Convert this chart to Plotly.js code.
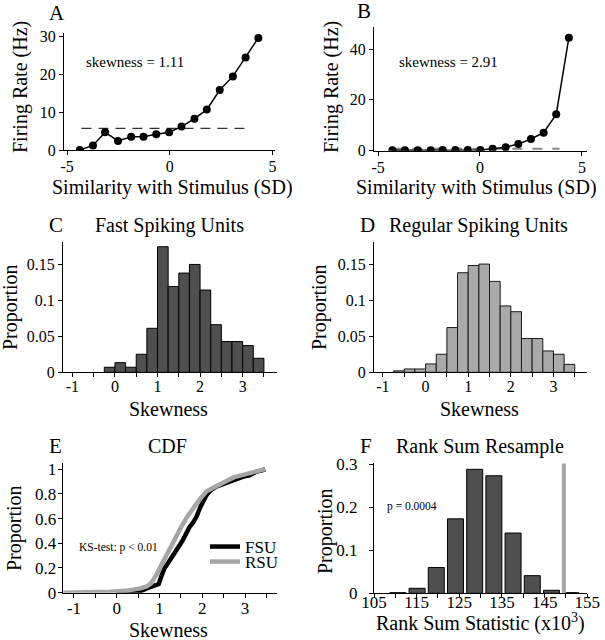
<!DOCTYPE html>
<html>
<head>
<meta charset="utf-8">
<script src="https://cdn.plot.ly/plotly-3.0.1.min.js"></script>
<style>html,body{margin:0;padding:0;background:#fff}#chart{width:605px;height:640px}</style>
</head>
<body>
<div id="chart"></div>
<script>
// ---- Panel A: example tuning curve (skewness 1.11)
const A_similarity = [-4.38,-3.74,-3.15,-2.52,-1.88,-1.28,-0.66,-0.03,0.57,1.20,1.80,2.43,3.07,3.69,4.31];
const A_rate = [0,1.2,4.7,2.4,3.5,3.5,4.2,4.7,6.2,8.3,10.7,15.9,19.5,24.5,29.7];
const A_threshX = [-4.3, 3.9];
const A_threshY = [5.75, 5.75];

// ---- Panel B: example tuning curve (skewness 2.91)
const B_similarity = [-4.30,-3.68,-3.05,-2.42,-1.83,-1.21,-0.60,0.02,0.62,1.26,1.88,2.50,3.12,3.74,4.36];
const B_rate = [0.2,0.2,0.2,0.2,0.3,0.3,0.3,0.3,0.8,1.4,2.6,4.6,7.1,14.3,44.5];
const B_threshX = [-4.3, 3.9];
const B_threshY = [0.8, 0.8];

// ---- Panel C: Fast spiking units skewness histogram (bin width 0.25)
const C_binCenters = [-0.125,0.125,0.375,0.625,0.875,1.125,1.375,1.625,1.875,2.125,2.375,2.625,2.875,3.125,3.375];
const C_proportion = [0.007,0.0134,0.007,0.025,0.061,0.174,0.119,0.1375,0.1495,0.114,0.066,0.0426,0.0426,0.037,0.0194];

// ---- Panel D: Regular spiking units skewness histogram
const D_binCenters = [-0.625,-0.375,-0.125,0.125,0.375,0.625,0.875,1.125,1.375,1.625,1.875,2.125,2.375,2.625,2.875,3.125,3.375];
const D_proportion = [0.002,0.0046,0.0046,0.0116,0.025,0.062,0.138,0.148,0.150,0.126,0.092,0.084,0.0468,0.0468,0.0296,0.025,0.011];

// ---- Panel E: CDFs
const E_fsuSkew = [0.0,0.3,0.54,0.7,0.8,0.93,0.98,1.05,1.12,1.2,1.25,1.32,1.4,1.48,1.55,1.64,1.7,1.79,1.87,1.95,2.02,2.1,2.2,2.34,2.5,2.65,2.8,2.96,3.1,3.27,3.4,3.47];
const E_fsuCdf  = [0,0.005,0.01,0.035,0.045,0.062,0.07,0.14,0.2,0.24,0.27,0.3,0.35,0.39,0.43,0.5,0.53,0.57,0.62,0.69,0.74,0.79,0.83,0.86,0.88,0.9,0.92,0.94,0.95,0.98,0.99,1.0];
const E_rsuSkew = [-1.25,-0.6,-0.15,0.2,0.4,0.55,0.7,0.8,0.92,1.01,1.12,1.25,1.4,1.52,1.64,1.79,1.95,2.1,2.25,2.42,2.6,2.75,2.9,3.05,3.2,3.35,3.47];
const E_rsuCdf  = [0,0.002,0.008,0.015,0.025,0.035,0.05,0.075,0.14,0.2,0.28,0.37,0.47,0.54,0.61,0.69,0.76,0.82,0.85,0.88,0.91,0.935,0.95,0.965,0.975,0.99,1.0];

// ---- Panel F: rank sum resample distribution (x10^3)
const F_binCenters = [110.6,115.1,119.6,124.1,128.6,133.1,137.6,142.1,146.6,151.1];
const F_proportion = [0.0015,0.0116,0.060,0.173,0.288,0.273,0.14,0.041,0.007,0.0015];
const F_observed = 149.5;
const F_observedSpan = [0, 0.302];

// ---- tick labels
const A_xTicks = [-5,0,5], A_xLabels = ['-5','0','5'];
const A_yTicks = [0,10,20,30], A_yLabels = ['0','10','20','30'];
const B_yTicks = [0,20,40], B_yLabels = ['0','20','40'];
const skewTicks = [-1,0,1,2,3], skewLabels = ['-1','0','1','2','3'];
const propTicks = [0,0.05,0.1,0.15], propLabels = ['0','0.05','0.1','0.15'];
const cdfTicks = [0,0.2,0.4,0.6,0.8,1], cdfLabels = ['0','0.2','0.4','0.6','0.8','1'];
const F_xTicks = [105,115,125,135,145,155], F_xLabels = ['105','115','125','135','145','155'];
const F_yTicks = [0,0.1,0.2,0.3], F_yLabels = ['0','0.1','0.2','0.3'];

const FONT = '"Liberation Serif", serif';
const W = 605, H = 640;
const px = v => v / W;
const py = v => 1 - v / H;

function ax(extra, size) {
  return Object.assign({
    showline: true, linecolor: 'black', linewidth: 1,
    ticks: 'outside', ticklen: 4, tickcolor: 'black', tickwidth: 1,
    showgrid: false, zeroline: false, fixedrange: true,
    tickfont: {family: FONT, size: size || 16, color: 'black'},
    tickmode: 'array'
  }, extra);
}
const minorSkew = {tickmode: 'linear', tick0: -1, dtick: 0.5, ticks: 'outside', ticklen: 4, tickcolor: 'black', showgrid: false};

const darkBar = {color: '#4f4f4f', line: {color: 'black', width: 1}};
const lightBar = {color: '#a9a9a9', line: {color: '#1a1a1a', width: 1}};

const traces = [
  {x: A_threshX, y: A_threshY, xaxis: 'x', yaxis: 'y', mode: 'lines', line: {color: '#333', width: 1.2, dash: '10px,7px'}, showlegend: false},
  {x: A_similarity, y: A_rate, xaxis: 'x', yaxis: 'y', mode: 'lines+markers', line: {color: 'black', width: 1.5}, marker: {color: 'black', size: 8}, showlegend: false},
  {x: B_threshX, y: B_threshY, xaxis: 'x2', yaxis: 'y2', mode: 'lines', line: {color: '#888', width: 2, dash: '10px,10px'}, showlegend: false},
  {x: B_similarity, y: B_rate, xaxis: 'x2', yaxis: 'y2', mode: 'lines+markers', line: {color: 'black', width: 1.5}, marker: {color: 'black', size: 8}, showlegend: false},
  {type: 'bar', x: C_binCenters, y: C_proportion, width: 0.25, xaxis: 'x3', yaxis: 'y3', marker: darkBar, showlegend: false},
  {type: 'bar', x: D_binCenters, y: D_proportion, width: 0.25, xaxis: 'x4', yaxis: 'y4', marker: lightBar, showlegend: false},
  {x: E_fsuSkew, y: E_fsuCdf, xaxis: 'x5', yaxis: 'y5', mode: 'lines', name: 'FSU', line: {color: 'black', width: 4.5}, showlegend: true, legend: 'legend'},
  {x: E_rsuSkew, y: E_rsuCdf, xaxis: 'x5', yaxis: 'y5', mode: 'lines', name: 'RSU', line: {color: '#a6a6a6', width: 4.5}, showlegend: true, legend: 'legend2'},
  {type: 'bar', x: F_binCenters, y: F_proportion, width: 3.75, xaxis: 'x6', yaxis: 'y6', marker: darkBar, showlegend: false},
  {x: [F_observed, F_observed], y: F_observedSpan, xaxis: 'x6', yaxis: 'y6', mode: 'lines', line: {color: '#a6a6a6', width: 4}, showlegend: false}
];

function ann(text, x, y, size, extra) {
  return Object.assign({text: text, x: px(x), y: py(y), xref: 'paper', yref: 'paper', showarrow: false,
    xanchor: 'center', yanchor: 'middle', font: {family: FONT, size: size, color: 'black'}}, extra || {});
}

const annotations = [
  ann('A', 57, 13, 21), ann('B', 364, 11, 21), ann('C', 56, 225, 21), ann('D', 367, 225, 21),
  ann('E', 55, 446, 21), ann('F', 366, 446, 21),
  ann('Fast Spiking Units', 169, 225, 20), ann('Regular Spiking Units', 478, 225, 20),
  ann('CDF', 167, 446, 20), ann('Rank Sum Resample', 480, 446, 20),
  ann('Firing Rate (Hz)', 20, 87, 20, {textangle: -90}),
  ann('Firing Rate (Hz)', 331, 87, 20, {textangle: -90}),
  ann('Similarity with Stimulus (SD)', 172, 188, 20),
  ann('Similarity with Stimulus (SD)', 477, 188, 20),
  ann('Proportion', 10, 307, 20, {textangle: -90}),
  ann('Proportion', 319, 307, 20, {textangle: -90}),
  ann('Skewness', 168, 409, 20), ann('Skewness', 479, 409, 20),
  ann('Proportion', 14, 528, 20, {textangle: -90}),
  ann('Proportion', 325, 531, 20, {textangle: -90}),
  ann('Skewness', 168, 630, 20),
  ann('Rank Sum Statistic (x10<sup>3</sup>)', 480, 622, 20),
  ann('skewness = 1.11', 135, 62, 15),
  ann('skewness = 2.91', 448, 62, 15),
  ann('KS-test: p &lt; 0.01', 118, 547, 11.5),
  ann('p = 0.0004', 412, 506, 11.5)
];

const legendBase = {xref: 'paper', yref: 'paper', xanchor: 'left', yanchor: 'middle', bgcolor: 'rgba(0,0,0,0)',
  borderwidth: 0, font: {family: FONT, size: 17, color: 'black'}, itemwidth: 30};

const layout = {
  width: W, height: H, margin: {l: 0, r: 0, t: 0, b: 0},
  paper_bgcolor: 'white', plot_bgcolor: 'rgba(0,0,0,0)',
  bargap: 0,
  font: {family: FONT},
  legend: Object.assign({}, legendBase, {x: px(205), y: py(547)}),
  legend2: Object.assign({}, legendBase, {x: px(205), y: py(562)}),
  xaxis: ax({domain: [px(64), px(275)], range: [-5.15, 5.12], tickvals: A_xTicks, ticktext: A_xLabels, anchor: 'y', ticklabelstandoff: -2}),
  yaxis: ax({domain: [py(150), py(33)], range: [0, 31], tickvals: A_yTicks, ticktext: A_yLabels, anchor: 'x'}),
  xaxis2: ax({domain: [px(374), px(587)], range: [-5.2, 5.25], tickvals: A_xTicks, ticktext: A_xLabels, anchor: 'y2', ticklabelstandoff: -2}),
  yaxis2: ax({domain: [py(150.7), py(26.7)], range: [0, 48.8], tickvals: B_yTicks, ticktext: B_yLabels, anchor: 'x2'}),
  xaxis3: ax({domain: [px(63), px(276.7)], range: [-1.22, 3.8], tickvals: skewTicks, ticktext: skewLabels, anchor: 'y3', minor: minorSkew, ticklabelstandoff: -5}),
  yaxis3: ax({domain: [py(372.3), py(241.7)], range: [0, 0.181], tickvals: propTicks, ticktext: propLabels, anchor: 'x3'}),
  xaxis4: ax({domain: [px(374), px(586.7)], range: [-1.21, 3.78], tickvals: skewTicks, ticktext: skewLabels, anchor: 'y4', minor: minorSkew, ticklabelstandoff: -5}),
  yaxis4: ax({domain: [py(372.3), py(241.7)], range: [0, 0.181], tickvals: propTicks, ticktext: propLabels, anchor: 'x4'}),
  xaxis5: ax({domain: [px(62.7), px(276.7)], range: [-1.264, 3.74], tickvals: skewTicks, ticktext: skewLabels, anchor: 'y5', minor: minorSkew, ticklabelstandoff: -4}, 17),
  yaxis5: ax({domain: [py(592.7), py(463.3)], range: [0, 1.047], tickvals: cdfTicks, ticktext: cdfLabels, anchor: 'x5', ticklabelstandoff: -2}, 17),
  xaxis6: ax({domain: [px(374), px(587.3)], range: [105, 155], tickvals: F_xTicks, ticktext: F_xLabels, anchor: 'y6', ticklabelstandoff: -11,
    minor: {tickmode: 'linear', tick0: 105, dtick: 5, ticks: 'outside', ticklen: 4, tickcolor: 'black', showgrid: false}}, 17),
  yaxis6: ax({domain: [py(593.3), py(463.3)], range: [0, 0.302], tickvals: F_yTicks, ticktext: F_yLabels, anchor: 'x6', ticklabelstandoff: 8}, 17),
  annotations: annotations
};

Plotly.newPlot('chart', traces, layout, {displayModeBar: false, staticPlot: true});
</script>
</body>
</html>
